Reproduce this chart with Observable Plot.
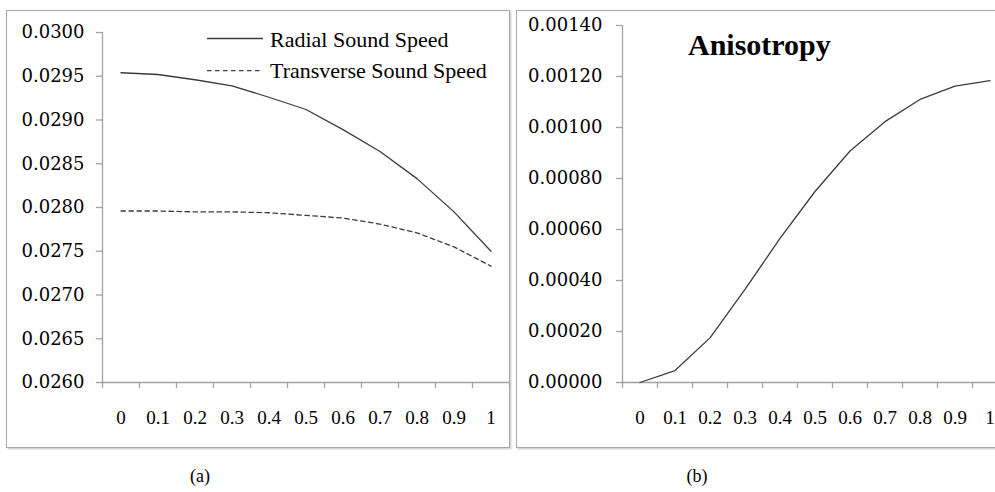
<!DOCTYPE html>
<html>
<head>
<meta charset="utf-8">
<script src="https://cdn.jsdelivr.net/npm/d3@7"></script>
<script src="https://cdn.jsdelivr.net/npm/@observablehq/plot@0.6"></script>
<style>
  html, body { margin: 0; padding: 0; background: #fff; overflow: hidden; }
  #wrap { position: relative; width: 995px; height: 492px; overflow: hidden; background: #fff; }
  .frame { position: absolute; border: 1.5px solid #a8a8a8; box-shadow: 1.5px 1.5px 0 #d6d6d6; box-sizing: border-box; }
  .panel { position: absolute; top: 0; }
  .panel svg { max-width: none !important; }
  #overlay { position: absolute; left: 0; top: 0; }
</style>
</head>
<body>
<div id="wrap">
  <div class="frame" style="left:6px; top:10px; width:504px; height:438px;"></div>
  <div class="frame" style="left:516px; top:10px; width:492px; height:438px;"></div>
  <div id="panelA" class="panel" style="left:0px; width:510px;"></div>
  <div id="panelB" class="panel" style="left:516px; width:491px;"></div>
</div>
<script>
// ---- data ----
const categories = ["0", "0.1", "0.2", "0.3", "0.4", "0.5", "0.6", "0.7", "0.8", "0.9", "1"];
const xValues = [0, 0.1, 0.2, 0.3, 0.4, 0.5, 0.6, 0.7, 0.8, 0.9, 1];
const xBoundaries = [-0.05, 0.05, 0.15, 0.25, 0.35, 0.45, 0.55, 0.65, 0.75, 0.85, 0.95, 1.05];
const radialSpeed = [0.02954, 0.02952, 0.02946, 0.02939, 0.02926, 0.02912, 0.02889, 0.02864, 0.02833, 0.02795, 0.02750];
const transverseSpeed = [0.02796, 0.02796, 0.02795, 0.02795, 0.02794, 0.02791, 0.02788, 0.02781, 0.02771, 0.02755, 0.02733];
const anisotropy = [0.00000, 0.000047, 0.000175, 0.000365, 0.000565, 0.000749, 0.000908, 0.001023, 0.001110, 0.001162, 0.001184];
const yTicksA = [0.0260, 0.0265, 0.0270, 0.0275, 0.0280, 0.0285, 0.0290, 0.0295, 0.0300];
const yTicksB = [0, 0.0002, 0.0004, 0.0006, 0.0008, 0.0010, 0.0012, 0.0014];
const legendLabels = ["Radial Sound Speed", "Transverse Sound Speed"];
const titleB = "Anisotropy";
const captions = ["(a)", "(b)"];

const AXIS = "#a3a3a3";
const LINE = "#3c3c3c";
const DASH = "4.5,3.5";

const tableA = xValues.map((x, i) => ({x, radial: radialSpeed[i], transverse: transverseSpeed[i]}));
const tableB = xValues.map((x, i) => ({x, anis: anisotropy[i]}));
const catLabel = d => categories[xValues.indexOf(d)];

function commonMarks(yTicks, fmt, pad) {
  return [
    Plot.ruleX([xBoundaries[0]], {stroke: AXIS, strokeWidth: 1.3}),
    Plot.ruleY([yTicks[0]], {stroke: AXIS, strokeWidth: 1.3}),
    Plot.axisY({ticks: yTicks, tickSize: 6, tickPadding: pad, tickFormat: fmt, stroke: AXIS, strokeWidth: 1.3,
      fill: "#000", fontSize: 18, fontFamily: "DejaVu Serif", label: null}),
    Plot.axisX({ticks: xBoundaries, tickSize: 6, tickFormat: () => "", stroke: AXIS, strokeWidth: 1.3, label: null}),
    Plot.axisX({ticks: xValues, tickSize: 0, tickPadding: 28, tickFormat: catLabel,
      fill: "#000", fontSize: 19, fontFamily: "Liberation Serif", label: null})
  ];
}

const chartA = Plot.plot({
  width: 510, height: 447,
  marginLeft: 102, marginRight: 1, marginTop: 32, marginBottom: 65,
  style: {background: "transparent", overflow: "visible", maxWidth: "none"},
  x: {domain: [xBoundaries[0], xBoundaries[xBoundaries.length - 1]], axis: null, label: null},
  y: {domain: [yTicksA[0], yTicksA[yTicksA.length - 1]], axis: null, label: null},
  marks: [
    ...commonMarks(yTicksA, d => d.toFixed(4), 12),
    Plot.line(tableA, {x: "x", y: "radial", stroke: LINE, strokeWidth: 1.3}),
    Plot.line(tableA, {x: "x", y: "transverse", stroke: LINE, strokeWidth: 1.3, strokeDasharray: DASH})
  ]
});
document.getElementById("panelA").appendChild(chartA);

const chartB = Plot.plot({
  width: 491, height: 447,
  marginLeft: 106, marginRight: 0, marginTop: 25, marginBottom: 65,
  style: {background: "transparent", overflow: "visible", maxWidth: "none"},
  x: {domain: [xBoundaries[0], xBoundaries[xBoundaries.length - 1]], axis: null, label: null},
  y: {domain: [yTicksB[0], yTicksB[yTicksB.length - 1]], axis: null, label: null},
  marks: [
    ...commonMarks(yTicksB, d => d.toFixed(5), 14),
    Plot.line(tableB, {x: "x", y: "anis", stroke: LINE, strokeWidth: 1.3})
  ]
});
document.getElementById("panelB").appendChild(chartB);

// ---- legend, title and captions ----
const ov = d3.select("#wrap").append("svg")
  .attr("id", "overlay").attr("width", 995).attr("height", 492)
  .style("font-family", "'Liberation Serif', 'Times New Roman', serif");

const leg = [
  {label: legendLabels[0], dash: null, ly: 38.5, ty: 46.5},
  {label: legendLabels[1], dash: DASH, ly: 70.7, ty: 78.3}
];
leg.forEach(d => {
  ov.append("line").attr("x1", 207).attr("x2", 263).attr("y1", d.ly).attr("y2", d.ly)
    .attr("stroke", LINE).attr("stroke-width", 1.3).attr("stroke-dasharray", d.dash);
  ov.append("text").attr("x", 270).attr("y", d.ty).attr("font-size", 22).attr("fill", "#000").text(d.label);
});

ov.append("text").attr("x", 688).attr("y", 55).attr("font-size", 30).attr("font-weight", "bold")
  .attr("fill", "#000").text(titleB);

ov.append("text").attr("x", 200).attr("y", 482).attr("font-size", 18).attr("text-anchor", "middle").text(captions[0]);
ov.append("text").attr("x", 697).attr("y", 482).attr("font-size", 18).attr("text-anchor", "middle").text(captions[1]);
</script>
</body>
</html>
